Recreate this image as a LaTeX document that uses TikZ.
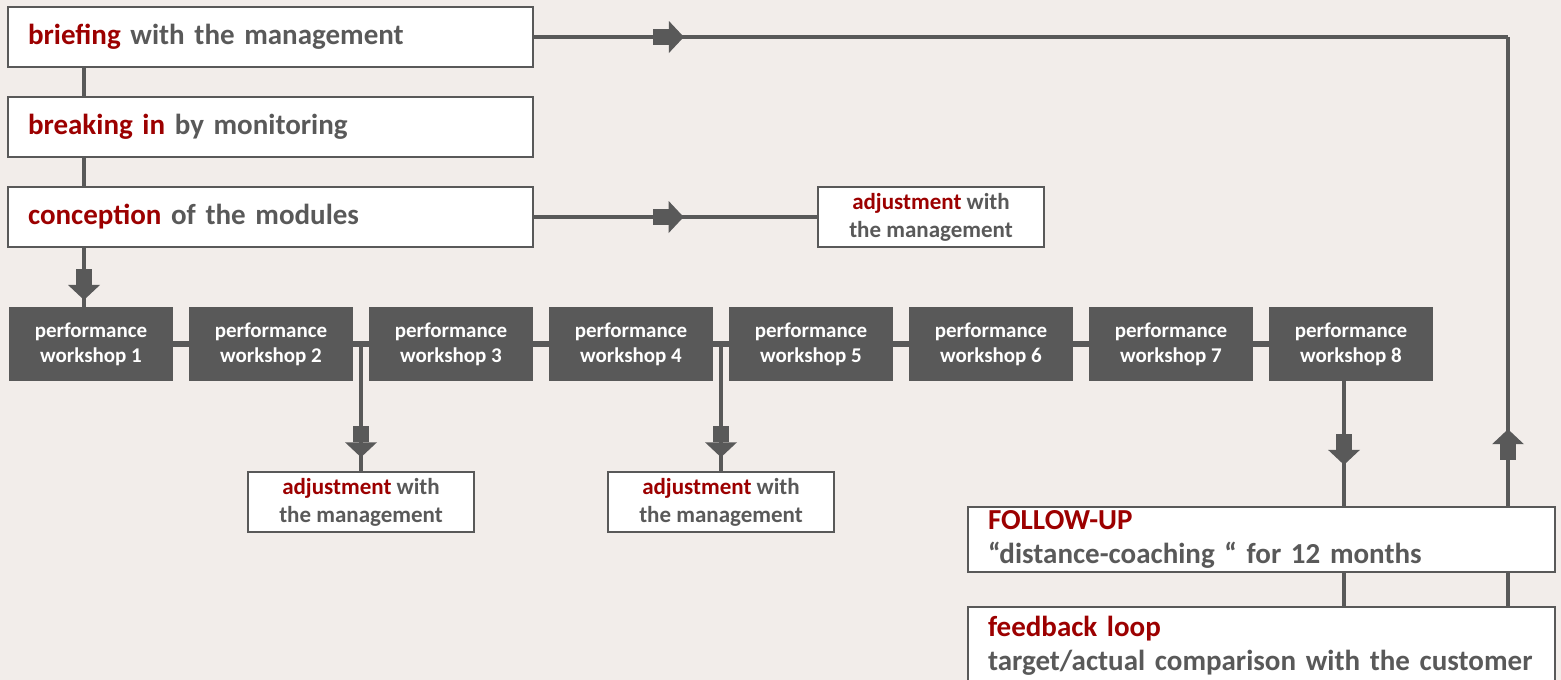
\documentclass[tikz,border=0pt]{standalone}
\usepackage{fontspec}
\setmainfont{Carlito}
\usetikzlibrary{decorations.markings}
\definecolor{bg}{HTML}{F2EDEA}
\definecolor{linegray}{HTML}{595959}
\definecolor{darkred}{HTML}{9C0000}
\newcommand{\hl}[1]{\textcolor{darkred}{#1}}
\newcommand{\blockarrow}{%
  \fill[linegray] (-15.5,-8) rectangle (0.5,8);
  \fill[linegray] (0.5,-16) -- (15.5,0) -- (0.5,16) -- cycle;}

\tikzset{
  topbox/.style={draw=linegray,line width=2pt,fill=white,text=linegray,
    text width=485pt,inner xsep=20pt,minimum height=60pt,align=left,
    font=\bfseries\fontsize{29}{34}\selectfont},
  lowbox/.style={topbox,text width=547pt},
  adjbox/.style={draw=linegray,line width=2pt,fill=white,text=linegray,
    minimum width=226pt,minimum height=60pt,inner sep=0pt,align=center,
    font=\bfseries\fontsize{23}{28}\selectfont},
  wsbox/.style={fill=linegray,text=white,minimum width=164pt,
    minimum height=74pt,inner sep=0pt,align=center,
    font=\bfseries\fontsize{21}{25}\selectfont},
  link/.style={draw=linegray,line width=3.5pt},
  wslink/.style={draw=linegray,line width=6pt},
  arrowat/.style={postaction={decorate},
    decoration={markings,mark=at position #1 with {\blockarrow}}}
}

\begin{document}
\begin{tikzpicture}[x=1pt,y=-1pt]
  \clip (0,0) rectangle (1561,680);
  \fill[bg] (0,0) rectangle (1561,680);

  \node[topbox] (brief) at (270.5,37) {\hl{briefing} with the management};
  \node[topbox] (breakin) at (270.5,127) {\hl{breaking in} by monitoring};
  \node[topbox] (concept) at (270.5,217) {\hl{conception} of the modules};
  \node[adjbox] (adj1) at (931,217) {\hl{adjustment} with\\the management};

  \foreach \i in {1,...,8}
    \node[wsbox] (ws\i) at ({91+180*(\i-1)},344) {performance\\workshop \i};
  \foreach \i [count=\j from 2] in {1,...,7}
    \draw[wslink] (ws\i.east) -- (ws\j.west);

  \node[adjbox] (adj2) at (361,502) {\hl{adjustment} with\\the management};
  \node[adjbox] (adj3) at (721,502) {\hl{adjustment} with\\the management};

  \node[lowbox] (followup) at (1261.5,539.5)
    {\hl{FOLLOW-UP}\\“distance-coaching “ for 12 months};
  \node[lowbox,minimum height=78pt] (feedback) at (1261.5,646)
    {\hl{feedback loop}\\target/actual comparison with the customer};

  \coordinate (spine) at (84,0);
  \coordinate (topright) at (1508,37);
  \coordinate (drop) at ([xshift=-7pt]ws8.south);

  % upper column
  \draw[link] (brief.south -| spine) -- (breakin.north -| spine);
  \draw[link] (breakin.south -| spine) -- (concept.north -| spine);
  \draw[link,arrowat=0.62] (concept.south -| spine) -- (ws1.north -| spine);
  \draw[link,arrowat=0.474] (concept.east) -- (adj1.west);

  % loop on the right
  \draw[link,arrowat=0.138] (brief.east) -- (topright);
  \draw[link,arrowat=0.131] (followup.north -| topright) -- (topright);

  % adjustments between workshops
  \draw[link,arrowat=0.77] (adj2.north |- ws2.east) -- (adj2.north);
  \draw[link,arrowat=0.77] (adj3.north |- ws4.east) -- (adj3.north);

  \draw[link,arrowat=0.545] (drop) -- (followup.north -| drop);
  \draw[link] (followup.south -| drop) -- (feedback.north -| drop);
  \draw[link] (followup.south -| topright) -- (feedback.north -| topright);
\end{tikzpicture}
\end{document}
